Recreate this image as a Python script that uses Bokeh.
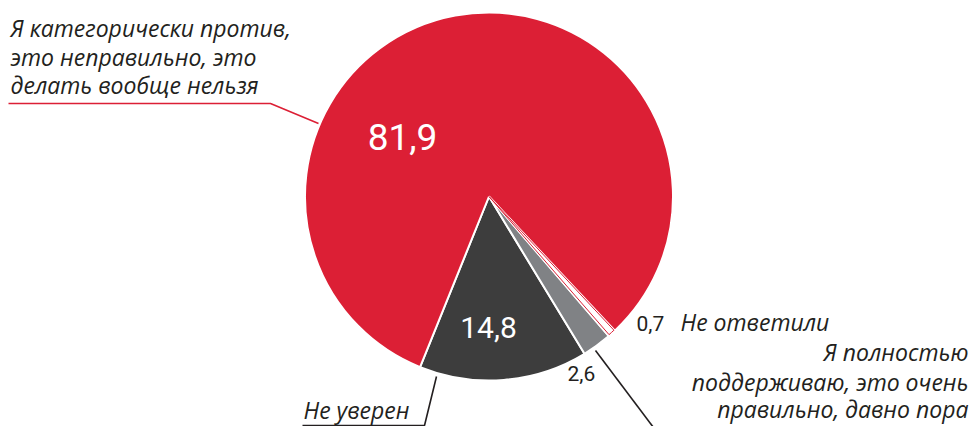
import math
from bokeh.plotting import figure
from bokeh.models import Range1d, ColumnDataSource
from bokeh.core.properties import value
from bokeh.embed import file_html
from bokeh.resources import INLINE

# ---- data ----
categories = [
    "Не уверен",
    "Я полностью\nподдерживаю, это очень\nправильно, давно пора",
    "Не ответили",
    "Я категорически против,\nэто неправильно, это\nделать вообще нельзя",
]
values = [14.8, 2.6, 0.7, 81.9]
colors = ["#3d3d3d", "#808285", "#ffffff", "#dc1f35"]
value_labels = [f"{v:.1f}".replace(".", ",") for v in values]

W, H = 973, 426
def X(sx):
    return sx
def Y(sy):
    return H - sy
def B(sy, fs):
    # place text so that its baseline lands at screen y = sy
    return Y(sy - 0.357 * fs)

p = figure(width=W, height=H, output_backend="svg", toolbar_location=None,
           x_range=Range1d(0, W), y_range=Range1d(0, H),
           x_axis_type=None, y_axis_type=None, min_border=0)
p.outline_line_color = None
p.grid.visible = False
p.background_fill_color = "white"

cx, cy, r = 488.5, 196, 184
start0 = math.radians(-112)
total = sum(values)
starts, ends = [], []
a = start0
for v in values:
    starts.append(a)
    a += v / total * 2 * math.pi
    ends.append(a)

src = ColumnDataSource(dict(x=[X(cx)] * 4, y=[Y(cy)] * 4, start=starts, end=ends, color=colors))
p.wedge(x="x", y="y", radius=r, start_angle="start", end_angle="end",
        fill_color="color", line_color="white", line_width=2, source=src)
pad = math.radians(0.35)
p.wedge(x=X(cx), y=Y(cy), radius=r - 1, start_angle=starts[2] + pad, end_angle=ends[2] - pad * 0.3,
        fill_color="white", line_color=colors[3], line_width=1)

# ---- value labels ----
num_font = value("Roboto")
p.text(x=[X(402)], y=[B(150, 37)], text=[value_labels[3]], text_font=num_font, text_font_size="37px",
       text_color="white", text_align="center", text_baseline="alphabetic")
p.text(x=[X(488)], y=[B(338, 30)], text=[value_labels[0]], text_font=num_font, text_font_size="30px",
       text_color="white", text_align="center", text_baseline="alphabetic")
p.text(x=[X(567)], y=[B(380, 21)], text=[value_labels[1]], text_font=num_font, text_font_size="21px",
       text_color="#231f20", text_align="left", text_baseline="alphabetic")
p.text(x=[X(636)], y=[B(330, 21)], text=[value_labels[2]], text_font=num_font, text_font_size="21px",
       text_color="#231f20", text_align="left", text_baseline="alphabetic")

# ---- category labels ----
fs = 23
cat_kw = dict(text_font=value("Open Sans"), text_font_style="italic", text_font_size=f"{fs}px",
              text_color="#231f20", text_baseline="alphabetic")
lines_left = categories[3].split("\n")
p.text(x=[X(10)] * 3, y=[B(36, fs), B(65, fs), B(93, fs)], text=lines_left, text_align="left", **cat_kw)
lines_right = categories[1].split("\n")
p.text(x=[X(968)] * 3, y=[B(360, fs), B(390, fs), B(417, fs)], text=lines_right, text_align="right", **cat_kw)
p.text(x=[X(680)], y=[B(330, fs)], text=[categories[2]], text_align="left", **cat_kw)
p.text(x=[X(303)], y=[B(418, fs)], text=[categories[0]], text_align="left", **cat_kw)

# ---- leader lines ----
p.line([X(8), X(270), X(318)], [Y(103), Y(103), Y(123)], line_color=colors[3], line_width=1.6)
p.line([X(302), X(424), X(436)], [Y(425), Y(425), Y(376)], line_color="#231f20", line_width=1.6)
p.line([X(595), X(656)], [Y(350), Y(431)], line_color="#231f20", line_width=1.6)

open("out.html", "w").write(file_html(p, INLINE))
